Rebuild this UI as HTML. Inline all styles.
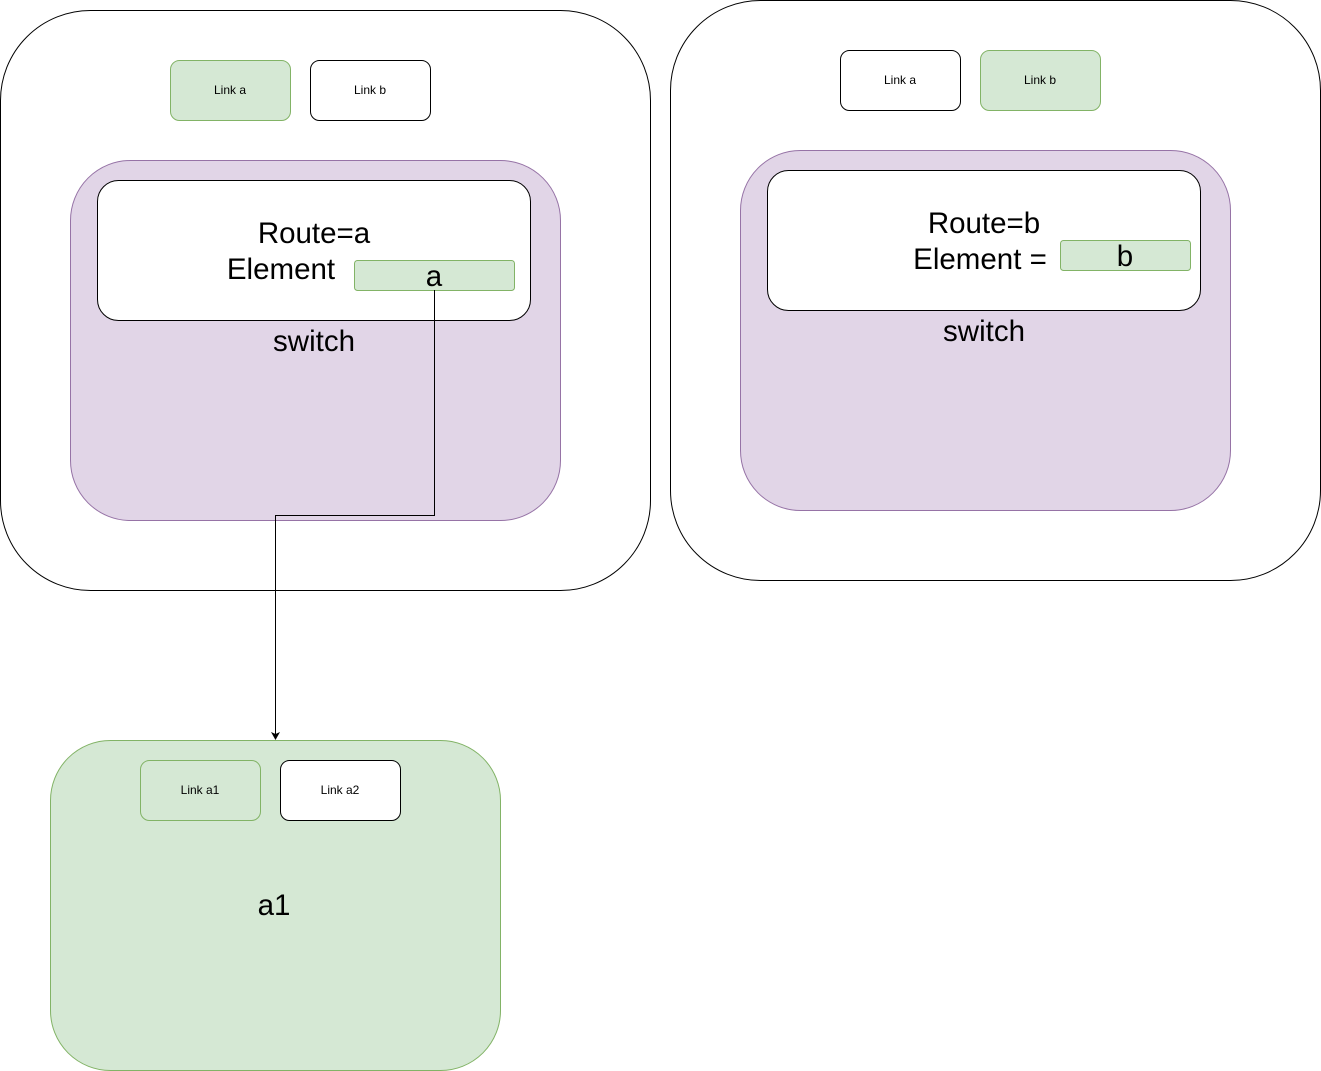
<!DOCTYPE html>
<html><head><meta charset="utf-8"><style>body{margin:0;background:#fff}svg{display:block}text{font-family:"Liberation Sans",Arial,sans-serif}</style></head>
<body>
<svg width="1321" height="1071" viewBox="0 0 1321 1071" xmlns="http://www.w3.org/2000/svg">
<g stroke-width="1">
<rect x="0.5" y="10.5" width="650" height="580" rx="90" fill="#fff" stroke="#000"/>
<rect x="670.5" y="0.5" width="650" height="580" rx="90" fill="#fff" stroke="#000"/>
<rect x="170.5" y="60.5" width="120" height="60" rx="9" fill="#d5e8d4" stroke="#82b366"/>
<rect x="310.5" y="60.5" width="120" height="60" rx="9" fill="#fff" stroke="#000"/>
<rect x="70.5" y="160.5" width="490" height="360" rx="60" fill="#e1d5e7" stroke="#9673a6"/>
<rect x="97.5" y="180.5" width="433" height="140" rx="21" fill="#fff" stroke="#000"/>
<rect x="354.5" y="260.5" width="160" height="30" rx="3" fill="#d5e8d4" stroke="#82b366"/>
<rect x="840.5" y="50.5" width="120" height="60" rx="9" fill="#fff" stroke="#000"/>
<rect x="980.5" y="50.5" width="120" height="60" rx="9" fill="#d5e8d4" stroke="#82b366"/>
<rect x="740.5" y="150.5" width="490" height="360" rx="60" fill="#e1d5e7" stroke="#9673a6"/>
<rect x="767.5" y="170.5" width="433" height="140" rx="21" fill="#fff" stroke="#000"/>
<rect x="1060.5" y="240.5" width="130" height="30" rx="3" fill="#d5e8d4" stroke="#82b366"/>
<rect x="50.5" y="740.5" width="450" height="330" rx="60" fill="#d5e8d4" stroke="#82b366"/>
<rect x="140.5" y="760.5" width="120" height="60" rx="9" fill="#d5e8d4" stroke="#82b366"/>
<rect x="280.5" y="760.5" width="120" height="60" rx="9" fill="#fff" stroke="#000"/>
<polyline points="434.5,290 434.5,515.5 275.5,515.5 275.5,734" fill="none" stroke="#000"/>
<path d="M271,732 L275.5,740 L280,732 L275.5,734 Z" fill="#000"/>
</g>
<g font-size="12" text-anchor="middle" fill="#000">
<text x="230" y="94">Link a</text><text x="370" y="94">Link b</text>
<text x="900" y="84">Link a</text><text x="1040" y="84">Link b</text>
<text x="200" y="794">Link a1</text><text x="340" y="794">Link a2</text>
</g>
<g font-size="29.5" fill="#000" text-anchor="middle">
<text x="314" y="243">Route=a</text>
<text x="281" y="279">Element</text>
<text x="434" y="286">a</text>
<text x="314" y="351">switch</text>
<text x="984" y="233">Route=b</text>
<text x="980" y="269">Element =</text>
<text x="1125" y="266">b</text>
<text x="984" y="341">switch</text>
<text x="274" y="915">a1</text>
</g>
</svg>
</body></html>
